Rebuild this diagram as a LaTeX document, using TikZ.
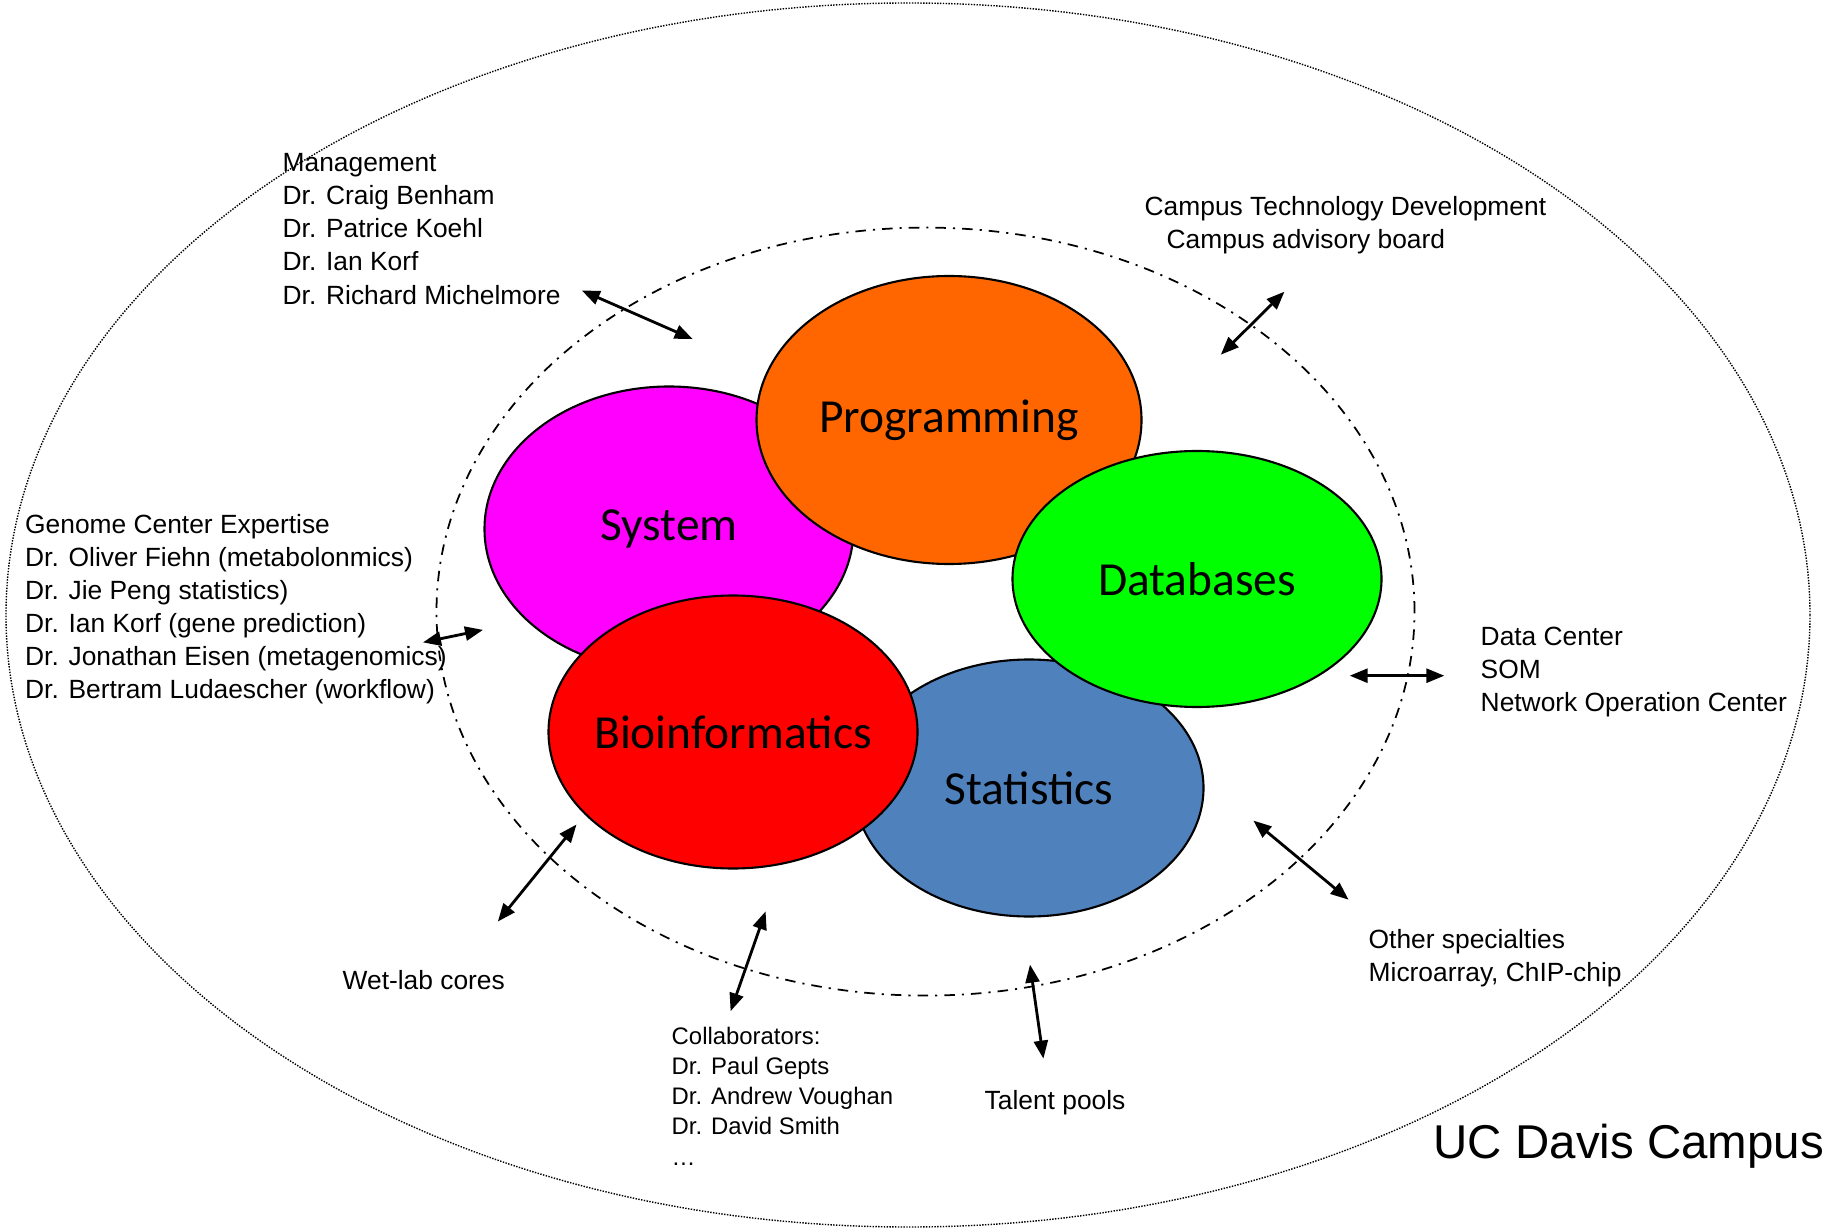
\documentclass[tikz,border=0pt]{standalone}
\usepackage{fontspec}
\setmainfont{Liberation Sans}
\newfontfamily\calibri{Carlito}
\usetikzlibrary{shapes.geometric,arrows.meta}

\tikzset{
  bubble/.style={ellipse, draw=black, line width=0.6pt, inner xsep=-6mm, inner ysep=0pt,
    font=\calibri\fontsize{13.5}{16}\selectfont},
  info/.style={anchor=west, align=left, inner sep=0pt,
    font=\fontsize{7.5}{9.4}\selectfont},
  link/.style={{Triangle[length=1.8mm,width=1.4mm]}-{Triangle[length=1.8mm,width=1.4mm]},
    line width=0.8pt},
}

\begin{document}
\begin{tikzpicture}
    \useasboundingbox (0,0) rectangle (18.30,12.29);
    % campus and core
    \draw[line width=0.4pt, dash pattern=on 0.4pt off 0.4pt] (9.08,6.14) ellipse [x radius=9.02, y radius=6.12];
    \draw[line width=0.5pt, dash pattern=on 3pt off 2pt on 0.6pt off 2pt] (9.255,6.174) ellipse [x radius=4.89, y radius=3.84];

    % the five groups
    \node[bubble, fill={rgb,255:red,255;green,0;blue,255}, minimum width=3.69cm, minimum height=2.85cm] (sys) at (6.69,7.00) {System};
    \node[bubble, fill={rgb,255:red,255;green,102;blue,0}, minimum width=3.85cm, minimum height=2.88cm] (prog) at (9.49,8.09) {Programming};
    \node[bubble, fill={rgb,255:red,79;green,129;blue,189}, minimum width=3.49cm, minimum height=2.57cm] (stat) at (10.29,4.41) {Statistics};
    \node[bubble, fill={rgb,255:red,0;green,255;blue,0}, minimum width=3.69cm, minimum height=2.56cm] (db) at (11.97,6.50) {Databases};
    \node[bubble, fill={rgb,255:red,255;green,0;blue,0}, minimum width=3.69cm, minimum height=2.73cm] (bio) at (7.33,4.97) {Bioinformatics};

    % partners
    \node[info] (mgmt) at (2.82,10.00) {Management\\Dr. Craig Benham\\Dr. Patrice Koehl\\Dr. Ian Korf\\Dr. Richard Michelmore};
    \node[info] (ctd) at (11.44,10.04) {Campus Technology Development\\\hspace*{0.22cm}Campus advisory board};
    \node[info] (gce) at (0.245,6.20) {Genome Center Expertise\\Dr. Oliver Fiehn (metabolonmics)\\Dr. Jie Peng statistics)\\Dr. Ian Korf (gene prediction)\\Dr. Jonathan Eisen (metagenomics)\\Dr. Bertram Ludaescher (workflow)};
    \node[info] (dc) at (14.80,5.57) {Data Center\\SOM\\Network Operation Center};
    \node[info] (wet) at (3.42,2.49) {Wet-lab cores};
    \node[info, font=\fontsize{6.8}{8.6}\selectfont] (collab) at (6.71,1.33) {Collaborators:\\Dr. Paul Gepts\\Dr. Andrew Voughan\\Dr. David Smith\\…};
    \node[info] (talent) at (9.84,1.26) {Talent pools};
    \node[info] (other) at (13.68,2.71) {Other specialties\\Microarray, ChIP-chip};
    \node[anchor=west, inner sep=0pt, font=\fontsize{13.5}{16}\selectfont] (ucd) at (14.33,0.83) {UC Davis Campus};

    % arrow ends
    \coordinate (m1) at (5.818,9.385);  \coordinate (m2) at (6.927,8.899);
    \coordinate (c1) at (12.844,9.373); \coordinate (c2) at (12.208,8.743);
    \coordinate (g1) at (4.23,5.866);   \coordinate (g2) at (4.83,5.991);
    \coordinate (w1) at (5.765,4.045);  \coordinate (w2) at (4.978,3.074);
    \coordinate (k1) at (7.656,3.176);  \coordinate (k2) at (7.306,2.178);
    \coordinate (t1) at (10.30,2.644);  \coordinate (t2) at (10.434,1.704);
    \coordinate (o1) at (12.534,4.084); \coordinate (o2) at (13.486,3.293);
    \coordinate (d1) at (13.497,5.533); \coordinate (d2) at (14.443,5.533);

    \draw[link] (m1) -- (m2);
    \draw[link] (c1) -- (c2);
    \draw[link] (g1) -- (g2);
    \draw[link] (w1) -- (w2);
    \draw[link] (k1) -- (k2);
    \draw[link] (t1) -- (t2);
    \draw[link] (o1) -- (o2);
    \draw[link] (d1) -- (d2);
\end{tikzpicture}
\end{document}
